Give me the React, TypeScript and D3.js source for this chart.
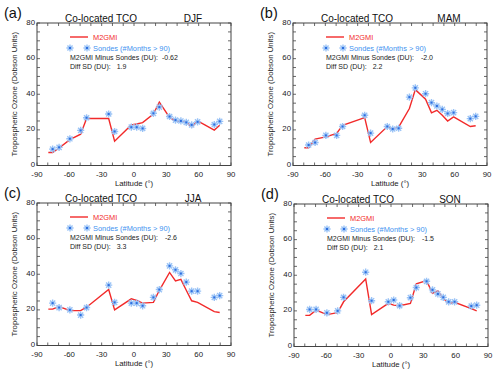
import React from "react";
import * as d3 from "d3";

// ---- data ----
const stationLat = [-75.5, -69.5, -59.5, -49.5, -44, -23.5, -18, -2.5, 2.5, 8, 18, 23.5, 33, 38.5, 43.5, 48.5, 53.5, 59, 74.5, 79.5];
const modelLat = [-79.5, ...stationLat];

const panelIds = ["(a)", "(b)", "(c)", "(d)"];
const seasons = ["DJF", "MAM", "JJA", "SON"];
const meanDiff = ["-0.62", "-2.0", "-2.6", "-1.5"];
const sdDiff = ["1.9", "2.2", "3.3", "2.1"];

const modelDJF = [7.3, 7.3, 9.8, 14.5, 17.6, 26.4, 26.4, 13.6, 22.8, 23.3, 24.1, 28.9, 35.6, 27, 25, 24.8, 24.3, 21.6, 25, 19.9, 22.6];
const sondeDJF = [9.2, 10.2, 15, 19.7, 26.8, 28.9, 19.1, 21.5, 21.5, 20.8, 29.3, 32.8, 27.5, 25.5, 25, 24.2, 22.8, 24.5, 23, 24.8];

const modelMAM = [10, 10, 14.8, 16.1, 18, 22.5, 26.9, 12.9, 21.9, 20.2, 21.5, 32, 42.6, 37.2, 29.6, 31, 28.2, 25, 27.3, 21.9, 22.3];
const sondeMAM = [11.5, 12.9, 16.9, 16.9, 21.9, 28.2, 18.2, 21.9, 20.5, 20.9, 38.4, 43.6, 40.3, 35.3, 33.4, 31.5, 29.2, 29.7, 26.3, 27.6];

const modelJJA = [20.4, 20.4, 21.9, 19.6, 19.6, 21.5, 31.4, 20, 26.2, 25.3, 23.8, 24.2, 31, 41, 36.2, 37.1, 31, 25.1, 24.2, 19, 18.5];
const sondeJJA = [23.8, 21.3, 20, 17.1, 21.3, 33.9, 24.2, 23.8, 23.8, 22.3, 27, 31.4, 44.7, 42.5, 40.4, 35.6, 30.5, 30.5, 27, 28];

const modelSON = [17.5, 17.5, 20.4, 17.9, 19.0, 25.1, 37.9, 17.9, 24.2, 23.2, 22.9, 24.2, 35.2, 37, 29.9, 31.2, 27, 24.2, 24.8, 21.3, 20];
const sondeSON = [20.8, 20.8, 18.9, 20, 27.6, 41.7, 25.7, 25.1, 26.1, 22.9, 27.4, 33.1, 36.6, 31.8, 29.5, 27.6, 25.1, 25.1, 22.7, 23.2];

const modelSeries = [modelDJF, modelMAM, modelJJA, modelSON];
const sondeSeries = [sondeDJF, sondeMAM, sondeJJA, sondeSON];

const xMajorTicks = [-90, -60, -30, 0, 30, 60, 90];
const xMinorTicks = d3.range(-90, 91, 10);
const yMajorTicks = [0, 20, 40, 60, 80];
const yMinorTicks = d3.range(0, 81, 5);

// ---- layout ----
const layout = [
  { left: 37, top: 23 },
  { left: 293, top: 23 },
  { left: 37, top: 203 },
  { left: 294, top: 204 },
];
const PW = 194;
const PH = 142.5;

const FONT = "'Liberation Sans', Arial, Helvetica, sans-serif";
const RED = "#f22a2a";
const BLUE_TXT = "#4292f0";
const AXIS = "#444";

function Marker({ x, y }: { x: number; y: number }) {
  const r = 3.6;
  const d = r * 0.72;
  return (
    <g>
      <path
        d={`M${x - r},${y}H${x + r}M${x},${y - r}V${y + r}M${x - d},${y - d}L${x + d},${y + d}M${x - d},${y + d}L${x + d},${y - d}`}
        stroke="#9ac3f6"
        strokeWidth={1.4}
        fill="none"
      />
      <rect x={x - 1} y={y - 1} width={2} height={2} fill="#2c6ee0" />
    </g>
  );
}

function Panel({ i }: { i: number }) {
  const { left, top } = layout[i];
  const x = d3.scaleLinear().domain([-90, 90]).range([left, left + PW]);
  const y = d3.scaleLinear().domain([0, 80]).range([top + PH, top]);
  const line = d3
    .line<number>()
    .x((_, k) => x(modelLat[k]))
    .y((v) => y(v));
  const model = modelSeries[i];
  const sonde = sondeSeries[i];
  const bottom = top + PH;
  const tl = 3;
  const valGap = i === 0 ? 4 : 7;
  return (
    <g fontFamily={FONT}>
      {/* panel id */}
      <text x={left - 33} y={top - 5} fontSize={14.5} fill="#111">
        {panelIds[i]}
      </text>
      {/* titles */}
      <text x={left + 28} y={top - 1.5} fontSize={10} fill="#111">
        Co-located TCO
      </text>
      <text x={left + 156} y={top - 1.5} fontSize={10} fill="#111" textAnchor="middle">
        {seasons[i]}
      </text>
      {/* box */}
      <rect x={left} y={top} width={PW} height={PH} fill="none" stroke={AXIS} strokeWidth={1} />
      {xMinorTicks.map((t) => (
        <g key={"xm" + t} stroke={AXIS} strokeWidth={0.8}>
          <line x1={x(t)} x2={x(t)} y1={bottom} y2={bottom - tl} />
          <line x1={x(t)} x2={x(t)} y1={top} y2={top + tl} />
        </g>
      ))}
      {yMinorTicks.map((t) => (
        <g key={"ym" + t} stroke={AXIS} strokeWidth={0.8}>
          <line x1={left} x2={left + tl} y1={y(t)} y2={y(t)} />
          <line x1={left + PW} x2={left + PW - tl} y1={y(t)} y2={y(t)} />
        </g>
      ))}
      {xMajorTicks.map((t) => (
        <text key={"xl" + t} x={x(t)} y={bottom + 11.5} fontSize={7.8} textAnchor="middle" fill="#222">
          {t}
        </text>
      ))}
      {yMajorTicks.map((t) => (
        <text key={"yl" + t} x={left - 2} y={y(t) + 1.5} fontSize={7.8} textAnchor="end" fill="#222">
          {t}
        </text>
      ))}
      <text x={left + PW / 2} y={bottom + 20.5} fontSize={7.8} textAnchor="middle" fill="#222">
        Latitude (°)
      </text>
      <text
        transform={`translate(${left - 20},${top + PH / 2}) rotate(-90)`}
        fontSize={7.8}
        textAnchor="middle"
        fill="#222"
      >
        Tropospheric Ozone (Dobson Units)
      </text>
      {/* data */}
      <path d={line(model) || ""} fill="none" stroke={RED} strokeWidth={1.4} />
      {sonde.map((v, k) => (
        <Marker key={k} x={x(stationLat[k])} y={y(v)} />
      ))}
      {/* legend */}
      <line x1={left + 33} x2={left + 51} y1={top + 14} y2={top + 14} stroke={RED} strokeWidth={1.4} />
      <text x={left + 56} y={top + 16.7} fontSize={7.4} fill={RED}>
        M2GMI
      </text>
      <Marker x={left + 33} y={top + 25} />
      <Marker x={left + 50} y={top + 25} />
      <text x={left + 56} y={top + 27.7} fontSize={7.4} fill={BLUE_TXT}>
        Sondes (#Months &gt; 90)
      </text>
      <text x={left + 33} y={top + 36.7} fontSize={7} fill="#222">
        <tspan>M2GMI Minus Sondes (DU):</tspan>
        <tspan dx={valGap}>{meanDiff[i]}</tspan>
      </text>
      <text x={left + 33} y={top + 46} fontSize={7} fill="#222">
        <tspan>Diff SD (DU):</tspan>
        <tspan dx={6}>{sdDiff[i]}</tspan>
      </text>
    </g>
  );
}

export default function App() {
  return (
    <svg
      width={500}
      height={374}
      style={{ position: "absolute", left: 0, top: 0, background: "#fff" }}
    >
      <rect width={500} height={374} fill="#fff" />
      {[0, 1, 2, 3].map((i) => (
        <Panel key={i} i={i} />
      ))}
    </svg>
  );
}
